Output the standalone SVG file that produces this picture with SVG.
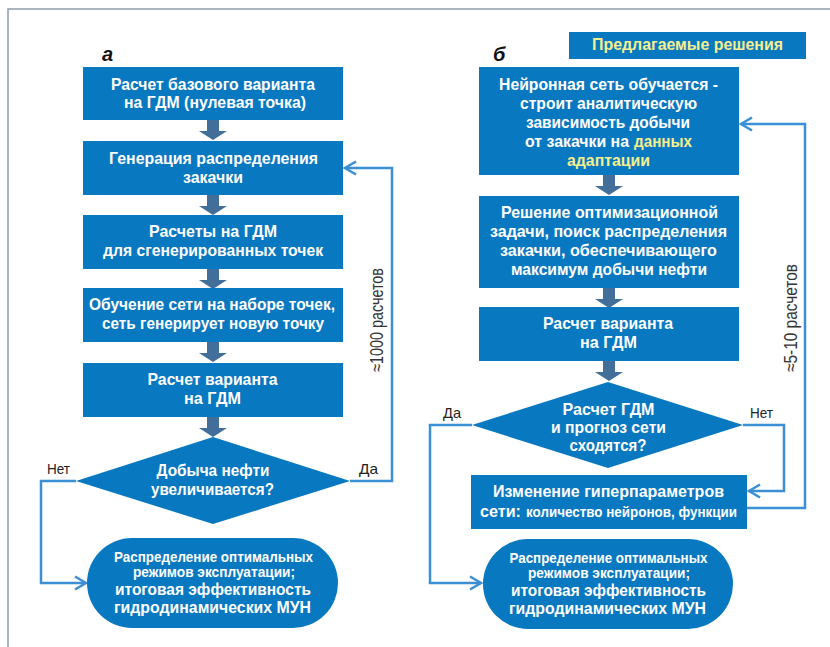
<svg xmlns="http://www.w3.org/2000/svg" width="830" height="647" viewBox="0 0 830 647">
<defs>
<style>
.box{fill:#0878c0}
.t{font-family:"Liberation Sans",Arial,sans-serif;font-weight:bold;fill:#fff;font-size:16.5px}
.ts{font-size:14px}
.y{fill:#f6ef8e}
.lbl{font-family:"Liberation Sans",Arial,sans-serif;fill:#222;font-size:15px}
.rot{font-family:"Liberation Sans",Arial,sans-serif;fill:#333;font-size:18.5px}
.conn{fill:none;stroke:#3b8fd4;stroke-width:2.5}
.bar{fill:#416f9a}
.frame{stroke:#8d9cab;stroke-width:1.5;fill:none}
</style>
<path id="ba" d="M-6,0 H6 V11 H14 L0,20 L-14,11 H-6 Z"/>
</defs>
<rect width="830" height="647" fill="#fff"/>
<path class="frame" d="M8,647 V9 H830"/>

<text x="102" y="61" font-family="Liberation Sans,Arial,sans-serif" font-weight="bold" font-style="italic" font-size="20" fill="#111">а</text>
<text x="493" y="61" font-family="Liberation Sans,Arial,sans-serif" font-weight="bold" font-style="italic" font-size="20" fill="#111">б</text>

<g id="header">
<rect class="box" x="569" y="32" width="237" height="27"/>
<text class="t y" x="687.5" y="50" text-anchor="middle" font-size="15.5" textLength="191" lengthAdjust="spacingAndGlyphs">Предлагаемые решения</text>
</g>

<g id="connectors">
<g class="bar">
<use href="#ba" transform="translate(213,120)"/>
<use href="#ba" transform="translate(213,195)"/>
<use href="#ba" transform="translate(213,269)"/>
<use href="#ba" transform="translate(213,342)"/>
<use href="#ba" transform="translate(213,417)"/>
<use href="#ba" transform="translate(609,175)"/>
<use href="#ba" transform="translate(609,288)"/>
<use href="#ba" transform="translate(609,361)"/>
</g>
<polyline class="conn" points="350,481 392,481 392,168 345,168"/>
<path class="conn" d="M356,161.5 L345,168 L356,174.5"/>
<polyline class="conn" points="76,481 41,481 41,583 86,583"/>
<path class="conn" d="M75,576.5 L86,583 L75,589.5"/>
<polyline class="conn" points="743,425 784,425 784,491 749,491"/>
<path class="conn" d="M760,484.5 L749,491 L760,497.5"/>
<polyline class="conn" points="747,508 805,508 805,124 741,124"/>
<path class="conn" d="M752,117.5 L741,124 L752,130.5"/>
<polyline class="conn" points="472,425 430,425 430,583 481,583"/>
<path class="conn" d="M470,576.5 L481,583 L470,589.5"/>
<text class="lbl" x="47" y="474" textLength="23" lengthAdjust="spacingAndGlyphs">Нет</text>
<text class="lbl" x="359" y="474" textLength="19" lengthAdjust="spacingAndGlyphs">Да</text>
<text class="lbl" x="443" y="418" textLength="18" lengthAdjust="spacingAndGlyphs">Да</text>
<text class="lbl" x="750" y="418" textLength="23" lengthAdjust="spacingAndGlyphs">Нет</text>
<text class="rot" transform="translate(383,320) rotate(-90)" text-anchor="middle" textLength="104" lengthAdjust="spacingAndGlyphs">≈1000 расчетов</text>
<text class="rot" transform="translate(797,318) rotate(-90)" text-anchor="middle" textLength="108" lengthAdjust="spacingAndGlyphs">≈5-10 расчетов</text>
</g>

<g id="a1">
<rect class="box" x="83" y="67" width="260" height="53"/>
<text class="t" x="213" y="90" text-anchor="middle" textLength="204" lengthAdjust="spacingAndGlyphs">Расчет базового варианта</text>
<text class="t" x="215" y="108" text-anchor="middle" textLength="182" lengthAdjust="spacingAndGlyphs">на ГДМ (нулевая точка)</text>
</g>
<g id="a2">
<rect class="box" x="83" y="141" width="260" height="54"/>
<text class="t" x="213.5" y="164" text-anchor="middle" textLength="209" lengthAdjust="spacingAndGlyphs">Генерация распределения</text>
<text class="t" x="213" y="183" text-anchor="middle" textLength="60" lengthAdjust="spacingAndGlyphs">закачки</text>
</g>
<g id="a3">
<rect class="box" x="83" y="215" width="260" height="54"/>
<text class="t" x="213" y="237" text-anchor="middle" textLength="128" lengthAdjust="spacingAndGlyphs">Расчеты на ГДМ</text>
<text class="t" x="213" y="256" text-anchor="middle" textLength="220" lengthAdjust="spacingAndGlyphs">для сгенерированных точек</text>
</g>
<g id="a4">
<rect class="box" x="83" y="288" width="260" height="54"/>
<text class="t" x="212" y="310" text-anchor="middle" textLength="246" lengthAdjust="spacingAndGlyphs">Обучение сети на наборе точек,</text>
<text class="t" x="213" y="329" text-anchor="middle" textLength="222" lengthAdjust="spacingAndGlyphs">сеть генерирует новую точку</text>
</g>
<g id="a5">
<rect class="box" x="83" y="363" width="260" height="54"/>
<text class="t" x="212.5" y="385" text-anchor="middle" textLength="130" lengthAdjust="spacingAndGlyphs">Расчет варианта</text>
<text class="t" x="212.5" y="404" text-anchor="middle" textLength="57" lengthAdjust="spacingAndGlyphs">на ГДМ</text>
</g>
<g id="a6">
<polygon class="box" points="213,437 350,481 213,524 76,481"/>
<text class="t" x="213" y="476" text-anchor="middle" textLength="113" lengthAdjust="spacingAndGlyphs">Добыча нефти</text>
<text class="t" x="212.5" y="495" text-anchor="middle" textLength="123" lengthAdjust="spacingAndGlyphs">увеличивается?</text>
</g>
<g id="a7">
<rect class="box" x="87" y="538" width="251" height="90" rx="45"/>
<text class="t ts" x="213.5" y="562" text-anchor="middle" textLength="199" lengthAdjust="spacingAndGlyphs">Распределение оптимальных</text>
<text class="t ts" x="214" y="577" text-anchor="middle" textLength="162" lengthAdjust="spacingAndGlyphs">режимов эксплуатации;</text>
<text class="t" x="213" y="595" text-anchor="middle" textLength="196" lengthAdjust="spacingAndGlyphs">итоговая эффективность</text>
<text class="t" x="212.5" y="613" text-anchor="middle" textLength="197" lengthAdjust="spacingAndGlyphs">гидродинамических МУН</text>
</g>

<g id="b1">
<rect class="box" x="479" y="67" width="260" height="108"/>
<text class="t" x="608.5" y="90" text-anchor="middle" textLength="219" lengthAdjust="spacingAndGlyphs">Нейронная сеть обучается -</text>
<text class="t" x="608.5" y="109" text-anchor="middle" textLength="177" lengthAdjust="spacingAndGlyphs">строит аналитическую</text>
<text class="t" x="608" y="128" text-anchor="middle" textLength="164" lengthAdjust="spacingAndGlyphs">зависимость добычи</text>
<text class="t" x="525" y="147" textLength="104" lengthAdjust="spacingAndGlyphs">от закачки на</text>
<text class="t y" x="634" y="147" textLength="58" lengthAdjust="spacingAndGlyphs">данных</text>
<text class="t y" x="608.5" y="166" text-anchor="middle" textLength="83" lengthAdjust="spacingAndGlyphs">адаптации</text>
</g>
<g id="b2">
<rect class="box" x="479" y="196" width="260" height="92"/>
<text class="t" x="609.5" y="218" text-anchor="middle" textLength="217" lengthAdjust="spacingAndGlyphs">Решение оптимизационной</text>
<text class="t" x="608.5" y="237" text-anchor="middle" textLength="237" lengthAdjust="spacingAndGlyphs">задачи, поиск распределения</text>
<text class="t" x="608.5" y="256" text-anchor="middle" textLength="217" lengthAdjust="spacingAndGlyphs">закачки, обеспечивающего</text>
<text class="t" x="609" y="275" text-anchor="middle" textLength="196" lengthAdjust="spacingAndGlyphs">максимум добычи нефти</text>
</g>
<g id="b3">
<rect class="box" x="479" y="307" width="260" height="54"/>
<text class="t" x="608" y="329" text-anchor="middle" textLength="130" lengthAdjust="spacingAndGlyphs">Расчет варианта</text>
<text class="t" x="608.5" y="348" text-anchor="middle" textLength="57" lengthAdjust="spacingAndGlyphs">на ГДМ</text>
</g>
<g id="b4">
<polygon class="box" points="608,382 743,425 608,468 472,425"/>
<text class="t" x="608.5" y="415" text-anchor="middle" textLength="92" lengthAdjust="spacingAndGlyphs">Расчет ГДМ</text>
<text class="t" x="608.5" y="433" text-anchor="middle" textLength="115" lengthAdjust="spacingAndGlyphs">и прогноз сети</text>
<text class="t" x="608" y="451" text-anchor="middle" textLength="77" lengthAdjust="spacingAndGlyphs">сходятся?</text>
</g>
<g id="b5">
<rect class="box" x="471" y="475" width="276" height="54"/>
<text class="t" x="608.5" y="497" text-anchor="middle" textLength="231" lengthAdjust="spacingAndGlyphs">Изменение гиперпараметров</text>
<text class="t" x="480" y="517" textLength="41" lengthAdjust="spacingAndGlyphs">сети:</text>
<text class="t ts" x="526" y="517" textLength="211" lengthAdjust="spacingAndGlyphs">количество нейронов, функции</text>
</g>
<g id="b6">
<rect class="box" x="483" y="539" width="250" height="90" rx="45"/>
<text class="t ts" x="608.5" y="563" text-anchor="middle" textLength="198" lengthAdjust="spacingAndGlyphs">Распределение оптимальных</text>
<text class="t ts" x="609" y="578" text-anchor="middle" textLength="162" lengthAdjust="spacingAndGlyphs">режимов эксплуатации;</text>
<text class="t" x="608.5" y="596" text-anchor="middle" textLength="195" lengthAdjust="spacingAndGlyphs">итоговая эффективность</text>
<text class="t" x="607.5" y="614" text-anchor="middle" textLength="197" lengthAdjust="spacingAndGlyphs">гидродинамических МУН</text>
</g>
</svg>
